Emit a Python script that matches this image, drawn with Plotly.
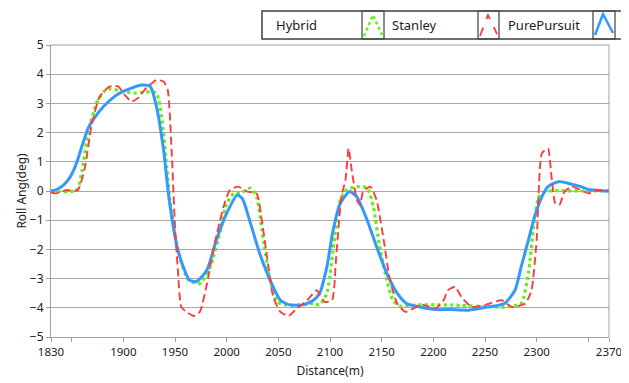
import plotly.graph_objects as go

# ---- data ----
hybrid_x = [1830, 1855, 1860, 1866, 1874, 1881, 1887, 1900, 1913, 1926, 1932, 1937, 1942, 1945,
            1952, 1963, 1974, 1984, 1994, 2000, 2007, 2013, 2023, 2029, 2036, 2042, 2049, 2058,
            2071, 2084, 2090, 2097, 2103, 2110, 2116, 2126, 2136, 2142, 2148, 2155, 2161, 2168,
            2184, 2203, 2216, 2256, 2272, 2285, 2292, 2297, 2302, 2308, 2321, 2343, 2370]
hybrid_y = [0.0, 0.03, 0.7, 2.0, 3.0, 3.4, 3.5, 3.4, 3.35, 3.4, 3.35, 2.55, 0.83, -0.3,
            -1.9, -3.05, -3.17, -2.6, -1.34, -0.42, -0.08, -0.08, 0.1, -0.2, -1.8, -3.05, -3.8, -3.9,
            -3.9, -3.85, -3.9, -3.5, -2.02, -0.3, 0.03, 0.15, 0.1, -0.54, -1.9, -3.05, -3.74, -3.94,
            -3.9, -3.9, -3.9, -3.97, -3.97, -3.85, -2.82, -1.22, -0.2, -0.02, 0.01, 0.0, 0.0]

stanley_x = [1830, 1835, 1845, 1856, 1863, 1869, 1877, 1887, 1895, 1901, 1908, 1914, 1922, 1932,
             1939, 1943, 1947, 1950, 1953, 1956, 1961, 1968, 1974, 1981, 1987, 1997, 2003, 2011,
             2020, 2029, 2034, 2039, 2045, 2052, 2060, 2068, 2078, 2087, 2095, 2102, 2106, 2111,
             2115, 2118, 2121, 2126, 2129, 2132, 2139, 2145, 2152, 2158, 2165, 2173, 2181, 2190,
             2202, 2210, 2214, 2221, 2227, 2237, 2250, 2266, 2276, 2289, 2295, 2300, 2305, 2311,
             2314, 2318, 2322, 2327, 2334, 2343, 2350, 2358, 2370]
stanley_y = [-0.05, -0.08, 0.03, 0.03, 0.83, 2.2, 3.23, 3.58, 3.58, 3.3, 3.06, 3.18, 3.52, 3.8,
             3.75, 3.46, 1.18, -1.22, -2.82, -3.97, -4.14, -4.28, -4.14, -3.17, -2.02, -0.54, 0.03, 0.15,
             -0.02, -0.08, -1.0, -2.25, -3.62, -4.14, -4.28, -4.02, -3.74, -3.4, -3.8, -3.74, -2.25, -0.2,
             0.38, 1.46, 0.72, -0.3, -0.48, -0.02, 0.15, -0.3, -1.68, -3.05, -3.85, -4.14, -4.02, -3.9,
             -4.02, -3.74, -3.4, -3.28, -3.62, -3.97, -3.9, -3.74, -3.97, -3.85, -3.4, -1.68, 1.29, 1.46,
             0.6, -0.42, -0.48, -0.02, 0.15, 0.03, -0.08, 0.03, 0.0]

pure_x = [1830, 1836, 1842, 1848, 1853, 1857, 1861, 1866, 1871, 1881, 1894, 1906, 1918, 1926, 1932,
          1939, 1944, 1952, 1958, 1964, 1971, 1981, 1990, 2000, 2010, 2015, 2023, 2032, 2042, 2052,
          2061, 2074, 2084, 2090, 2097, 2103, 2110, 2119, 2126, 2136, 2145, 2155, 2165, 2174, 2187,
          2203, 2216, 2234, 2253, 2269, 2279, 2285, 2292, 2298, 2305, 2311, 2321, 2331, 2343, 2350,
          2360, 2370]
pure_y = [0.0, 0.06, 0.2, 0.45, 0.8, 1.2, 1.65, 2.15, 2.45, 2.9, 3.3, 3.5, 3.63, 3.58, 2.9,
          1.4, -0.2, -1.9, -2.6, -3.05, -3.1, -2.7, -1.68, -0.77, -0.14, -0.25, -1.1, -2.14, -3.05, -3.74,
          -3.9, -3.9, -3.74, -3.5, -2.6, -1.34, -0.42, -0.02, -0.2, -1.0, -1.9, -2.82, -3.5, -3.85, -3.97,
          -4.06, -4.06, -4.08, -3.97, -3.85, -3.4, -2.6, -1.68, -0.88, -0.2, 0.15, 0.32, 0.26, 0.15, 0.05,
          0.02, 0.0]

x_tick_vals = [1830, 1850, 1900, 1950, 2000, 2050, 2100, 2150, 2200, 2250, 2300, 2350, 2370]
x_tick_text = ["1830", "", "1900", "1950", "2000", "2050", "2100", "2150", "2200", "2250", "2300", "", "2370"]
y_tick_vals = [5, 4, 3, 2, 1, 0, -1, -2, -3, -4, -5]
legend_names = ["Hybrid", "Stanley", "PurePursuit"]

GREEN = "#66ee11"
RED = "#ff3b3b"
BLUE = "#3399ff"
FONT = "Noto Sans"

# page body has an 8px margin: figure origin sits at (8, 8) of the window
OFF = 8
W, H = 629 - OFF, 383 - OFF
L, R, T, B = 51 - OFF, 20, 45 - OFF, 46
PW, PH = W - L - R, H - T - B


def px(x):
    return (x - OFF - L) / PW


def py(y):
    return (H - B - (y - OFF)) / PH


fig = go.Figure()
fig.add_trace(go.Scatter(x=hybrid_x, y=hybrid_y, mode="lines", name=legend_names[0],
                         line=dict(color=GREEN, width=3.2, dash="dot", shape="spline", smoothing=0.6),
                         showlegend=False))
fig.add_trace(go.Scatter(x=pure_x, y=pure_y, mode="lines", name=legend_names[2],
                         line=dict(color=BLUE, width=3, shape="spline", smoothing=0.6),
                         showlegend=False))
fig.add_trace(go.Scatter(x=stanley_x, y=stanley_y, mode="lines", name=legend_names[1],
                         line=dict(color=RED, width=1.9, dash="8px,4px", shape="spline", smoothing=0.5),
                         showlegend=False))

shapes = []
# plot frame (top and right)
shapes.append(dict(type="line", xref="paper", yref="paper", x0=0, x1=1, y0=1, y1=1,
                   line=dict(color="#a0a0a0", width=1)))
shapes.append(dict(type="line", xref="paper", yref="paper", x0=1, x1=1, y0=0, y1=1,
                   line=dict(color="#a0a0a0", width=1)))
# custom legend
LT, LB = 11, 39
shapes.append(dict(type="rect", xref="paper", yref="paper", x0=px(262), x1=px(623), y0=py(LB), y1=py(LT),
                   line=dict(color="#404040", width=1.5), fillcolor="white"))
boxes = [(362, 384), (478, 499), (593, 615)]
carets = [[(364, 36), (373, 15), (382, 35)],
          [(480, 36), (488, 15), (497, 34)],
          [(595, 35), (603, 14), (613, 33)]]
styles = [(GREEN, "dot", 2.5), (RED, "dash", 1.8), (BLUE, "solid", 2.5)]
for (bx0, bx1), pts, (c, d, w) in zip(boxes, carets, styles):
    shapes.append(dict(type="rect", xref="paper", yref="paper", x0=px(bx0), x1=px(bx1),
                       y0=py(LB), y1=py(LT), line=dict(color="#404040", width=1.2)))
    path = "M {} {} L {} {} L {} {}".format(px(pts[0][0]), py(pts[0][1]), px(pts[1][0]), py(pts[1][1]),
                                            px(pts[2][0]), py(pts[2][1]))
    shapes.append(dict(type="path", xref="paper", yref="paper", path=path,
                       line=dict(color=c, width=w, dash=d)))

annotations = []
for name, cx in zip(legend_names, [296, 414, 544]):
    annotations.append(dict(text=name, xref="paper", yref="paper", x=px(cx), y=py(25),
                            showarrow=False, xanchor="center", yanchor="middle",
                            font=dict(family=FONT, size=13, color="#222")))

fig.update_layout(
    width=W, height=H,
    margin=dict(l=L, r=R, t=T, b=B, autoexpand=False),
    paper_bgcolor="white", plot_bgcolor="white",
    font=dict(family=FONT, size=12, color="#222"),
    shapes=shapes, annotations=annotations,
    xaxis=dict(range=[1830, 2370], tickvals=x_tick_vals, ticktext=x_tick_text, automargin=False,
               showgrid=False, zeroline=False, showline=True, linecolor="#a0a0a0", linewidth=1,
               ticks="outside", ticklen=4, tickcolor="#a0a0a0",
               title=dict(text="Distance(m)", font=dict(family=FONT, size=12), standoff=8),
               tickfont=dict(family=FONT, size=11.5)),
    yaxis=dict(range=[-5, 5], tickvals=y_tick_vals, showgrid=True, gridcolor="#a8a8a8", gridwidth=1,
               zeroline=False, showline=True, linecolor="#a0a0a0", linewidth=1, automargin=False,
               ticks="outside", ticklen=4, tickcolor="#a0a0a0",
               title=dict(text="Roll Ang(deg)", font=dict(family=FONT, size=12), standoff=0),
               tickfont=dict(family=FONT, size=12)),
)

fig.write_html("out.html")
